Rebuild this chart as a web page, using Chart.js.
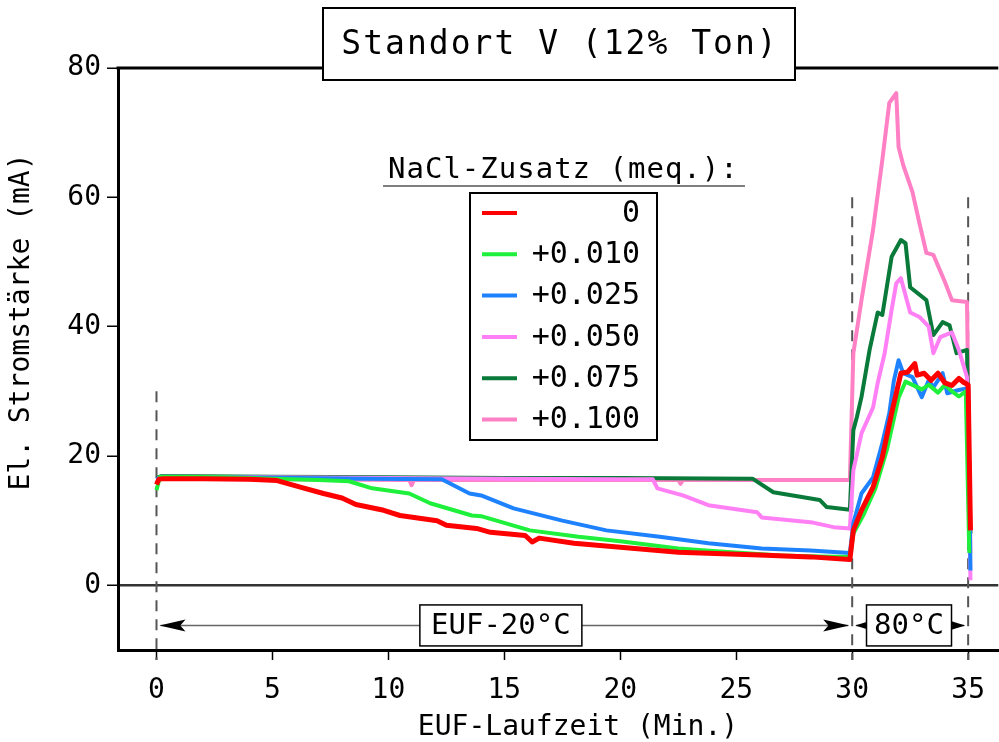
<!DOCTYPE html>
<html>
<head>
<meta charset="utf-8">
<script src="https://cdn.jsdelivr.net/npm/chart.js@4"></script>
<style>
  html, body { margin: 0; padding: 0; background: #fff; }
  #wrap { width: 999px; height: 742px; overflow: hidden; }
</style>
</head>
<body>
<div id="wrap"><canvas id="c"></canvas></div>
<script>
const mono = "'DejaVu Sans Mono', 'Liberation Mono', monospace";

const xTicks = [0, 5, 10, 15, 20, 25, 30, 35];
const yTicks = [0, 20, 40, 60, 80];
const nacl   = ["0", "+0.010", "+0.025", "+0.050", "+0.075", "+0.100"];
const colors = ["#ff0000", "#1ef03c", "#1e82ff", "#ff80f4", "#0a7a3a", "#ff80c4"];

// Laufzeit (min) / Stromstärke (mA) per NaCl-Zusatz
const t0 = [0, 0.1, 0.3, 2, 4, 5.2, 6.2, 7.2, 8.0, 8.6, 9.8, 10.5, 12.1, 12.5, 13.8, 14.4, 15.9, 16.2, 16.5, 18, 20, 22.5, 26, 28.2, 29.9,
            30.05, 30.4, 30.9, 31.3, 31.7, 32.1, 32.4, 32.7, 32.8, 33.1, 33.4, 33.7, 34.0, 34.3, 34.6, 34.8, 35.0, 35.1];
const v0 = [15.6, 16.4, 16.5, 16.5, 16.4, 16.2, 15.2, 14.2, 13.5, 12.5, 11.6, 10.8, 10.0, 9.3, 8.8, 8.2, 7.7, 6.7, 7.3, 6.5, 5.9, 5.1, 4.7, 4.4, 4.0,
            8.5, 11.6, 15.2, 19.8, 26.6, 32.8, 33.0, 34.3, 32.5, 32.8, 31.7, 32.8, 31.3, 30.9, 32.0, 31.4, 31.0, 8.5];

const t1 = [0, 0.15, 0.4, 3, 5, 7, 8.3, 9.3, 10.9, 11.8, 13.6, 14.0, 16.1, 18.2, 20, 22.5, 24, 26.9, 28, 29.9,
            30.05, 30.5, 31.0, 31.5, 32.0, 32.3, 32.6, 33.0, 33.3, 33.7, 34.0, 34.3, 34.6, 34.9, 35.05];
const v1 = [14.7, 16.8, 16.8, 16.7, 16.5, 16.3, 16.1, 15.0, 14.2, 12.7, 10.8, 10.7, 8.5, 7.5, 6.8, 5.7, 5.3, 4.6, 4.5, 4.4,
            8.0, 11.0, 15.0, 21.0, 29.0, 31.5, 31.0, 30.3, 31.0, 29.8, 31.0, 30.0, 29.2, 30.0, 5.0];

const t2 = [0, 0.2, 3, 6, 9, 12.3, 13.5, 14.0, 15.4, 17.5, 19.4, 21.7, 23.8, 26.1, 28.2, 29.9,
            30.05, 30.4, 30.9, 31.3, 31.6, 31.8, 32.0, 32.2, 32.6, 33.0, 33.3, 33.5, 33.9, 34.1, 34.6, 35.0, 35.1];
const v2 = [16.4, 16.8, 16.7, 16.6, 16.5, 16.4, 14.2, 13.9, 11.9, 10.0, 8.5, 7.5, 6.5, 5.7, 5.4, 5.0,
            9.6, 14.2, 16.7, 22.0, 26.6, 31.7, 34.8, 32.8, 32.2, 29.1, 31.7, 30.6, 32.8, 29.7, 30.2, 30.5, 2.3];

const t3 = [0, 0.2, 5, 10, 15, 20, 21.4, 21.6, 22.7, 23.8, 25.9, 26.1, 28.3, 29.2, 29.9,
            30.05, 30.4, 30.9, 31.1, 31.4, 31.7, 31.9, 32.1, 32.5, 32.9, 33.3, 33.5, 33.8, 34.3, 34.6, 34.95, 35.1];
const v3 = [16.4, 16.8, 16.7, 16.6, 16.5, 16.4, 16.4, 15.0, 13.9, 12.4, 11.3, 10.5, 9.7, 9.0, 8.8,
            17.8, 23.5, 27.5, 31.3, 35.9, 42.6, 46.7, 47.5, 42.2, 41.5, 40.0, 35.9, 38.4, 39.1, 36.4, 32.2, 0.8];

const t4 = [0, 0.2, 5, 10, 15, 20, 25.7, 26.6, 28.6, 28.9, 29.9,
            30.05, 30.2, 30.4, 30.75, 31.1, 31.3, 31.7, 32.1, 32.3, 32.5, 33.2, 33.5, 33.9, 34.2, 34.5, 34.95, 35.1];
const v4 = [16.6, 16.9, 16.8, 16.7, 16.6, 16.6, 16.5, 14.4, 13.2, 12.1, 11.7,
            24.0, 26.0, 29.1, 36.4, 42.2, 41.8, 50.8, 53.4, 52.9, 46.1, 44.1, 38.7, 40.7, 40.2, 35.9, 36.4, 8.0];

const t5 = [0, 0.2, 5, 10.9, 11.0, 11.1, 16, 22.5, 22.6, 22.7, 26, 29.9,
            30.05, 30.4, 30.9, 31.3, 31.6, 31.9, 32.0, 32.2, 32.6, 32.9, 33.2, 33.5, 34.0, 34.3, 34.95, 35.1];
const v5 = [16.3, 16.5, 16.4, 16.3, 15.5, 16.3, 16.3, 16.3, 15.7, 16.3, 16.3, 16.3,
            35.9, 44.1, 55.0, 65.8, 74.6, 76.1, 67.8, 65.0, 60.8, 56.0, 51.4, 51.1, 46.9, 44.1, 43.8, 5.0];

const times  = [t0, t1, t2, t3, t4, t5];
const values = [v0, v1, v2, v3, v4, v5];

const datasets = nacl.map((lab, i) => ({
  label: lab,
  data: times[i].map((t, k) => ({ x: t, y: values[i][k] })),
  borderColor: colors[i],
  backgroundColor: colors[i],
  borderWidth: i === 0 ? 5 : 4,
  pointRadius: 0,
  tension: 0,
  borderJoinStyle: "round"
}));

function arrowHead(ctx, x, y, dir, len, half) {
  ctx.beginPath();
  ctx.moveTo(x, y);
  ctx.lineTo(x - dir * len, y - half);
  ctx.lineTo(x - dir * len * 0.8, y);
  ctx.lineTo(x - dir * len, y + half);
  ctx.closePath();
  ctx.fill();
}

function textBox(ctx, cx, cy, w, h, txt, size) {
  ctx.fillStyle = "#fff";
  ctx.fillRect(cx - w / 2, cy - h / 2, w, h);
  ctx.strokeStyle = "#000";
  ctx.lineWidth = 1.5;
  ctx.strokeRect(cx - w / 2, cy - h / 2, w, h);
  ctx.fillStyle = "#000";
  ctx.font = size + "px " + mono;
  ctx.textAlign = "center";
  ctx.textBaseline = "middle";
  ctx.fillText(txt, cx, cy + 1);
}

const deco = {
  id: "deco",
  beforeDatasetsDraw(chart) {
    const { ctx, scales: { x, y }, chartArea: a } = chart;
    ctx.save();
    ctx.strokeStyle = "#555";
    ctx.lineWidth = 2;
    ctx.setLineDash([11, 8]);
    [[0, 30], [30, 60], [35, 60]].forEach(([t, top]) => {
      const px = x.getPixelForValue(t);
      ctx.beginPath();
      ctx.moveTo(px, y.getPixelForValue(top));
      ctx.lineTo(px, a.bottom + 10);
      ctx.stroke();
    });
    ctx.restore();
  },
  afterDraw(chart) {
    const { ctx, scales: { x, y }, chartArea: a } = chart;
    ctx.save();

    // top frame line
    ctx.strokeStyle = "#000";
    ctx.lineWidth = 3;
    ctx.beginPath();
    ctx.moveTo(a.left - 1.5, a.top);
    ctx.lineTo(a.right, a.top);
    ctx.stroke();

    // title box
    ctx.fillStyle = "#fff";
    ctx.fillRect(323, 8, 472, 72);
    ctx.lineWidth = 2;
    ctx.strokeRect(323, 8, 472, 72);
    ctx.fillStyle = "#000";
    ctx.font = "33px " + mono;
    ctx.letterSpacing = "2px";
    ctx.textAlign = "center";
    ctx.textBaseline = "middle";
    ctx.fillText("Standort V (12% Ton)", 560, 45);

    // legend
    ctx.font = "29px " + mono;
    ctx.letterSpacing = "1px";
    ctx.textAlign = "left";
    ctx.fillText("NaCl-Zusatz (meq.):", 388, 170);
    ctx.letterSpacing = "0px";
    ctx.strokeStyle = "#555";
    ctx.lineWidth = 1.5;
    ctx.beginPath();
    ctx.moveTo(383, 186);
    ctx.lineTo(745, 186);
    ctx.stroke();
    ctx.fillStyle = "#fff";
    ctx.fillRect(470, 193, 187, 247);
    ctx.strokeStyle = "#000";
    ctx.lineWidth = 2;
    ctx.strokeRect(470, 193, 187, 247);
    chart.data.datasets.forEach((ds, i) => {
      const ry = 213 + i * 41.3;
      ctx.strokeStyle = ds.borderColor;
      ctx.lineWidth = 4;
      ctx.beginPath();
      ctx.moveTo(482, ry);
      ctx.lineTo(517, ry);
      ctx.stroke();
      ctx.fillStyle = "#000";
      ctx.font = "30px " + mono;
      ctx.textAlign = "right";
      ctx.fillText(ds.label, 640, ry + 1);
    });

    // phase arrows
    const ay = y.getPixelForValue(-6.2);
    const p0 = x.getPixelForValue(0), p30 = x.getPixelForValue(30), p35 = x.getPixelForValue(35);
    ctx.strokeStyle = "#666";
    ctx.lineWidth = 1.5;
    ctx.beginPath();
    ctx.moveTo(p0 + 4, ay);
    ctx.lineTo(p30 - 4, ay);
    ctx.moveTo(p30 + 4, ay);
    ctx.lineTo(p35 - 4, ay);
    ctx.stroke();
    ctx.fillStyle = "#000";
    arrowHead(ctx, p0 + 3, ay, -1, 26, 6);
    arrowHead(ctx, p30 - 3, ay, 1, 26, 6);
    arrowHead(ctx, p30 + 3, ay, -1, 16, 5);
    arrowHead(ctx, p35 - 3, ay, 1, 16, 5);
    textBox(ctx, x.getPixelForValue(14.85), ay, 162, 41, "EUF-20°C", 29);
    textBox(ctx, x.getPixelForValue(32.45), ay, 85, 41, "80°C", 29);

    // axis titles
    ctx.fillStyle = "#000";
    ctx.font = "28px " + mono;
    ctx.textAlign = "center";
    ctx.textBaseline = "middle";
    ctx.fillText("EUF-Laufzeit (Min.)", 578, 728);
    ctx.translate(22, 322);
    ctx.rotate(-Math.PI / 2);
    ctx.fillText("El. Stromstärke (mA)", 0, 0);
    ctx.restore();
  }
};

new Chart(document.getElementById("c"), {
  type: "line",
  data: { datasets },
  plugins: [deco],
  options: {
    responsive: true,
    maintainAspectRatio: false,
    animation: false,
    events: [],
    layout: { padding: { top: 68, left: 0, right: 0, bottom: 0 } },
    plugins: { legend: { display: false }, tooltip: { enabled: false } },
    scales: {
      x: {
        type: "linear", min: -1.66, max: 36.3,
        afterBuildTicks: s => { s.ticks = xTicks.map(v => ({ value: v })); },
        afterFit: s => { s.height = 92; },
        grid: { drawOnChartArea: false, drawTicks: true, tickLength: 10, tickColor: "#000", tickWidth: 1.5 },
        border: { color: "#000", width: 3 },
        ticks: { color: "#000", font: { family: mono, size: 28 }, padding: 14, maxRotation: 0, autoSkip: false }
      },
      y: {
        type: "linear", min: -10, max: 80,
        afterBuildTicks: s => { s.ticks = yTicks.map(v => ({ value: v })); },
        afterFit: s => { s.width = 118; },
        grid: {
          color: c => (c.tick && c.tick.value === 0 ? "#333" : "rgba(0,0,0,0)"),
          lineWidth: 2.5, drawTicks: true, tickLength: 11, tickColor: "#000", tickWidth: 1.5
        },
        border: { color: "#000", width: 3 },
        ticks: { color: "#000", font: { family: mono, size: 28 }, padding: 6 }
      }
    }
  }
});
</script>
</body>
</html>
